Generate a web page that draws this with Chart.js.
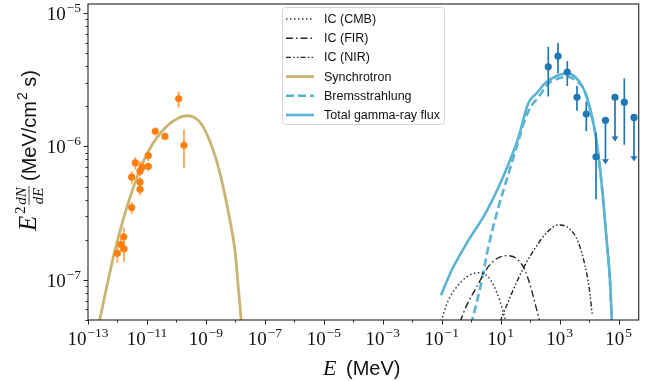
<!DOCTYPE html>
<html>
<head>
<meta charset="utf-8">
<script src="https://cdn.jsdelivr.net/npm/chart.js@4.4.1/dist/chart.umd.min.js"></script>
<style>
  html, body { margin: 0; padding: 0; background: #fff; }
</style>
</head>
<body>
<canvas id="sed" width="650" height="381"></canvas>
<script>
// === DATA (energies in MeV, fluxes E^2 dN/dE in MeV/cm^2 s) ===
const synE = [2.3e-13, 4.31e-13, 7.21e-13, 1.22e-12, 2.06e-12, 3.44e-12, 5.81e-12, 1.11e-11, 2.14e-11, 4.68e-11,
              1.02e-10, 2.23e-10, 4.27e-10, 7.19e-10, 1.37e-9, 2.32e-9, 3.89e-9, 6.56e-9, 9.68e-9, 1.25e-8, 1.55e-8, 1.6e-8];
const synF = [4.6e-8, 8.83e-8, 1.48e-7, 2.33e-7, 3.48e-7, 4.91e-7, 6.73e-7, 9.2e-7, 1.16e-6, 1.42e-6,
              1.61e-6, 1.70e-6, 1.64e-6, 1.46e-6, 1.09e-6, 7.76e-7, 4.91e-7, 2.77e-7, 1.66e-7, 8.83e-8, 5.13e-8, 4.6e-8];

const totE = [0.094, 0.217, 0.794, 2.93, 8.28, 18.1, 39.4, 86.3, 166, 318, 693, 1730, 3310, 6340,
              1.07e4, 1.58e4, 2.33e4, 3.02e4, 3.94e4, 5.09e4, 5.82e4, 6.0e4];
const totF = [7.66e-8, 1.18e-7, 1.97e-7, 3.11e-7, 4.91e-7, 7.33e-7, 1.16e-6, 2.11e-6, 2.51e-6, 2.97e-6, 3.33e-6, 3.53e-6, 3.33e-6, 2.73e-6,
              1.94e-6, 1.30e-6, 6.92e-7, 3.91e-7, 1.97e-7, 9.9e-8, 5.27e-8, 4.6e-8];

const bremE = [0.98, 1.98, 3.79, 8.28, 18.1, 39.4, 66.7, 112, 188, 411, 693, 1730, 3780, 7230,
               1.07e4, 1.58e4, 2.33e4, 3.02e4, 3.94e4, 5.09e4, 5.82e4, 6.0e4];
const bremF = [4.6e-8, 8.59e-8, 1.75e-7, 3.48e-7, 6.18e-7, 1.09e-6, 1.60e-6, 2.03e-6, 2.33e-6, 2.96e-6, 3.16e-6, 3.33e-6, 3.09e-6, 2.58e-6,
               1.89e-6, 1.28e-6, 6.8e-7, 3.85e-7, 1.94e-7, 9.8e-8, 5.2e-8, 4.6e-8];

const cmbE = [0.095, 0.167, 0.321, 0.701, 1.74, 3.79, 7.31, 12.2, 15.1];
const cmbF = [4.9e-8, 7.03e-8, 8.83e-8, 1.05e-7, 1.13e-7, 1.05e-7, 8.09e-8, 5.74e-8, 4.8e-8];

const firE = [0.416, 0.701, 1.53, 3.35, 7.31, 16.7, 34.8, 66.7, 112, 174, 215];
const firF = [4.84e-8, 6.44e-8, 8.83e-8, 1.21e-7, 1.44e-7, 1.52e-7, 1.44e-7, 1.18e-7, 8.34e-8, 5.74e-8, 4.84e-8];

const nirE = [9.46, 16.0, 34.8, 76.0, 166, 363, 897, 2240, 4290, 7230, 1.01e4, 1.28e4];
const nirF = [4.84e-8, 6.44e-8, 9.62e-8, 1.36e-7, 1.80e-7, 2.26e-7, 2.58e-7, 2.40e-7, 1.91e-7, 1.28e-7, 8.59e-8, 5.43e-8];

// radio / X-ray measurements (orange)
const radE  = [9.87e-13, 1.29e-12, 1.63e-12, 1.66e-12, 3.03e-12, 3.03e-12, 4.02e-12, 5.81e-12, 5.81e-12,
               5.81e-12, 6.79e-12, 1.11e-11, 1.11e-11, 1.92e-11, 4.09e-11, 1.19e-10, 1.80e-10];
const radF  = [1.58e-7, 1.84e-7, 2.10e-7, 1.71e-7, 3.48e-7, 5.90e-7, 7.53e-7, 4.78e-7, 5.41e-7,
               6.53e-7, 7.0e-7, 7.11e-7, 8.55e-7, 1.30e-6, 1.19e-6, 2.28e-6, 1.02e-6];
const radLo = [1.34e-7, 1.65e-7, 1.75e-7, 1.37e-7, 3.11e-7, 5.26e-7, 6.73e-7, 4.31e-7, 4.9e-7,
               6.0e-7, 6.4e-7, 6.53e-7, 7.76e-7, 1.21e-6, 1.12e-6, 1.96e-6, 6.84e-7];
const radHi = [1.78e-7, 2.05e-7, 2.47e-7, 1.97e-7, 3.84e-7, 6.53e-7, 8.31e-7, 5.2e-7, 5.9e-7,
               7.76e-7, 7.7e-7, 7.53e-7, 9.2e-7, 1.39e-6, 1.27e-6, 2.58e-6, 1.34e-6];

// gamma-ray measurements (blue); upper limits have the arrow tip in gamLo
const gamE  = [411, 877, 1815, 3870, 8000, 1.71e4, 3.58e4, 7.53e4, 1.56e5, 3.32e5];
const gamF  = [3.96e-6, 4.75e-6, 3.61e-6, 2.34e-6, 1.75e-6, 8.36e-7, 1.57e-6, 2.34e-6, 2.15e-6, 1.65e-6];
const gamLo = [2.37e-6, 3.53e-6, 2.84e-6, 1.85e-6, 1.30e-6, 4.02e-7, 7.5e-7, 1.11e-6, 1.03e-6, 7.9e-7];
const gamHi = [5.58e-6, 5.97e-6, 4.36e-6, 2.84e-6, 2.17e-6, 1.26e-6, 1.57e-6, 2.34e-6, 3.24e-6, 1.65e-6];
const gamUL = [false, false, false, false, false, false, true, true, false, true];

// axis ticks (powers of ten)
const xMajorExp = [-13, -11, -9, -7, -5, -3, -1, 1, 3, 5];
const xMinorExp = [-12, -10, -8, -6, -4, -2, 0, 2, 4];
const yMajorExp = [-7, -6, -5];

// === STYLE ===
const SYN_COL = '#c9b472';
const GAM_COL = '#5ab3d3';
const RAD_COL = '#ff7f0e';
const RAD_ERR = '#ffa050';
const PT_COL = '#1f77b4';
const SERIF = '"Liberation Serif", "DejaVu Serif", serif';
const SANS = '"Liberation Sans", "DejaVu Sans", sans-serif';

function pts(xs, ys) { return xs.map((x, i) => ({ x, y: ys[i] })); }

function curve(label, xs, ys, color, width, dash) {
  return {
    label, data: pts(xs, ys), borderColor: color, borderWidth: width, borderDash: dash || [],
    pointRadius: 0, fill: false, cubicInterpolationMode: 'monotone', order: 2
  };
}

// === PLUGINS ===
function vline(ctx, x, y0, y1) { ctx.beginPath(); ctx.moveTo(x, y0); ctx.lineTo(x, y1); ctx.stroke(); }
function hline(ctx, y, x0, x1) { ctx.beginPath(); ctx.moveTo(x0, y); ctx.lineTo(x1, y); ctx.stroke(); }

const errorBars = {
  id: 'errorBars',
  beforeDatasetDraw(chart, args) {
    const { ctx, scales: { x, y } } = chart;
    const ds = chart.data.datasets[args.index];
    if (!ds.errLo) return;
    ctx.save();
    ctx.strokeStyle = ds.errColor;
    ctx.fillStyle = ds.errColor;
    ctx.lineWidth = 1.7;
    ds.data.forEach((p, i) => {
      const px = x.getPixelForValue(p.x);
      const lo = y.getPixelForValue(ds.errLo[i]);
      const hi = y.getPixelForValue(ds.errHi[i]);
      vline(ctx, px, hi, lo);
      if (ds.ul && ds.ul[i]) {
        ctx.beginPath();
        ctx.moveTo(px - 3.5, lo - 4);
        ctx.lineTo(px + 3.5, lo - 4);
        ctx.lineTo(px, lo + 1);
        ctx.closePath();
        ctx.fill();
      }
    });
    ctx.restore();
  }
};

function powLabel(ctx, exp, x, y, align) {
  const base = '10';
  const sup = (exp < 0 ? '\u2212' : '') + Math.abs(exp);
  ctx.font = '19px ' + SERIF;
  const wb = ctx.measureText(base).width;
  ctx.font = '13.5px ' + SERIF;
  const ws = ctx.measureText(sup).width;
  const w = wb + ws + 1;
  const x0 = align === 'right' ? x - w : x - w / 2;
  ctx.textAlign = 'left';
  ctx.textBaseline = 'alphabetic';
  ctx.font = '19px ' + SERIF;
  ctx.fillText(base, x0, y);
  ctx.font = '13.5px ' + SERIF;
  ctx.fillText(sup, x0 + wb + 1, y - 8);
}

const axisDeco = {
  id: 'axisDeco',
  afterDraw(chart) {
    const { ctx, chartArea: a, scales: { x, y } } = chart;
    ctx.save();
    ctx.strokeStyle = '#222';
    ctx.fillStyle = '#222';
    ctx.lineWidth = 1;
    // x ticks
    xMajorExp.forEach(e => vline(ctx, Math.round(x.getPixelForValue(Math.pow(10, e))) + 0.5, a.bottom, a.bottom + 4.5));
    xMinorExp.forEach(e => vline(ctx, Math.round(x.getPixelForValue(Math.pow(10, e))) + 0.5, a.bottom, a.bottom + 2.5));
    // y ticks
    for (let e = -8; e <= -5; e++) {
      for (let m = 1; m <= 9; m++) {
        const v = m * Math.pow(10, e);
        if (v < y.min || v > y.max) continue;
        const py = Math.round(y.getPixelForValue(v)) + 0.5;
        hline(ctx, py, a.left - (m === 1 ? 4.5 : 2.5), a.left);
      }
    }
    // frame
    ctx.strokeStyle = '#333';
    ctx.lineWidth = 1.2;
    ctx.strokeRect(a.left, a.top, a.right - a.left, a.bottom - a.top);
    // tick labels
    ctx.fillStyle = '#111';
    xMajorExp.forEach(e => powLabel(ctx, e, x.getPixelForValue(Math.pow(10, e)), a.bottom + 25, 'center'));
    yMajorExp.forEach(e => powLabel(ctx, e, a.left - 7, y.getPixelForValue(Math.pow(10, e)) + 7, 'right'));
    // x title
    ctx.textAlign = 'left';
    ctx.font = 'italic 22px ' + SERIF;
    ctx.fillText('E', 323, 375);
    ctx.font = '20px ' + SANS;
    ctx.fillText('(MeV)', 346, 375);
    // y title (rotated)
    ctx.translate(36, 231);
    ctx.rotate(-Math.PI / 2);
    ctx.font = 'italic 25px ' + SERIF;
    ctx.fillText('E', 0, 0);
    ctx.font = '15px ' + SERIF;
    ctx.fillText('2', 17, -11);
    ctx.font = 'italic 15px ' + SERIF;
    ctx.textAlign = 'center';
    ctx.fillText('dN', 35, -10.5);
    ctx.fillText('dE', 35, 7);
    ctx.lineWidth = 0.9;
    hline(ctx, -7, 26, 45);
    ctx.textAlign = 'left';
    ctx.font = '20px ' + SANS;
    let u = 50;
    ctx.fillText('(MeV/cm', u, 0);
    u += ctx.measureText('(MeV/cm').width;
    ctx.font = '14px ' + SANS;
    ctx.fillText('2', u + 1, -9);
    u += ctx.measureText('2').width + 1;
    ctx.font = '20px ' + SANS;
    ctx.fillText(' s)', u, 0);
    ctx.restore();
  }
};

const sedLegend = {
  id: 'sedLegend',
  afterDraw(chart) {
    const { ctx } = chart;
    const items = chart.data.datasets.filter(d => d.inLegend);
    ctx.save();
    ctx.fillStyle = 'rgba(255,255,255,0.85)';
    ctx.strokeStyle = '#d4d4d4';
    ctx.lineWidth = 1;
    ctx.beginPath();
    ctx.roundRect(282.5, 7.5, 162, 117, 3);
    ctx.fill();
    ctx.stroke();
    items.forEach((d, i) => {
      const ry = 19 + i * 19.2;
      ctx.strokeStyle = d.borderColor;
      ctx.lineWidth = d.borderWidth;
      ctx.setLineDash(d.borderDash);
      hline(ctx, ry, 286, 314);
      ctx.setLineDash([]);
      ctx.fillStyle = '#111';
      ctx.font = '12.5px ' + SANS;
      ctx.textAlign = 'left';
      ctx.textBaseline = 'middle';
      ctx.fillText(d.label, 324, ry + 0.5);
    });
    ctx.restore();
  }
};

// === CHART ===
const datasets = [
  curve('IC (CMB)', cmbE, cmbF, '#333', 1.5, [1.5, 2.5]),
  curve('IC (FIR)', firE, firF, '#222', 1.4, [7, 3, 1.5, 3]),
  curve('IC (NIR)', nirE, nirF, '#222', 1.4, [5, 2.2, 1.5, 2.2, 1.5, 2.2]),
  curve('Synchrotron', synE, synF, SYN_COL, 2.8),
  curve('Bremsstrahlung', bremE, bremF, GAM_COL, 2.6, [8, 4]),
  curve('Total gamma-ray flux', totE, totF, GAM_COL, 2.6),
  {
    label: 'radio', data: pts(radE, radF), showLine: false, pointRadius: 3.6, pointBackgroundColor: RAD_COL,
    pointBorderWidth: 0, errLo: radLo, errHi: radHi, errColor: RAD_ERR, order: 1
  },
  {
    label: 'gamma', data: pts(gamE, gamF), showLine: false, pointRadius: 3.6, pointBackgroundColor: PT_COL,
    pointBorderWidth: 0, errLo: gamLo, errHi: gamHi, ul: gamUL, errColor: PT_COL, order: 0
  }
];
datasets.slice(0, 6).forEach(d => { d.inLegend = true; });

new Chart(document.getElementById('sed'), {
  type: 'line',
  data: { datasets },
  options: {
    responsive: false,
    animation: false,
    layout: { padding: { top: 1.5, right: 11.3, left: 0, bottom: 0 } },
    plugins: { legend: { display: false }, tooltip: { enabled: false } },
    scales: {
      x: {
        type: 'logarithmic', min: 1e-13, max: 4.8e5, bounds: 'data',
        grid: { display: false }, border: { display: false }, ticks: { display: false },
        afterFit: s => { s.height = 61; }
      },
      y: {
        type: 'logarithmic', min: 5e-8, max: 1.17e-5, bounds: 'data',
        grid: { display: false }, border: { display: false }, ticks: { display: false },
        afterFit: s => { s.width = 88; }
      }
    }
  },
  plugins: [errorBars, axisDeco, sedLegend]
});
</script>
</body>
</html>
